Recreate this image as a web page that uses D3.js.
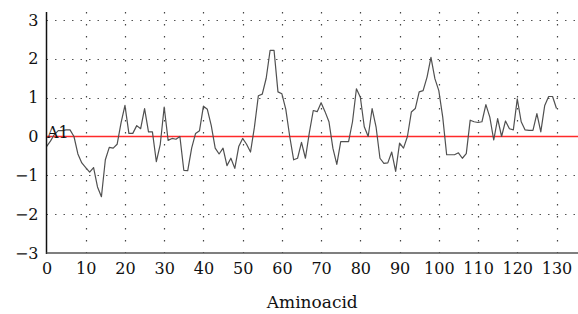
<!DOCTYPE html>
<html><head><meta charset="utf-8">
<script src="https://cdn.jsdelivr.net/npm/d3@7"></script>
<style>body{margin:0;background:#fff}svg{display:block}</style>
</head><body>
<svg id="c" width="578" height="314"></svg>
<script>
const seriesName = "A1";
const xLabel = "Aminoacid";
const xTicks = [0,10,20,30,40,50,60,70,80,90,100,110,120,130];
const yTicks = [-3,-2,-1,0,1,2,3];
const values = [
 -0.26,-0.12,0.05,0.15,0.15,0.17,0.17,0.0,-0.45,-0.68,
 -0.8,-0.92,-0.8,-1.3,-1.55,-0.6,-0.28,-0.3,-0.2,0.35,
 0.8,0.08,0.08,0.28,0.2,0.72,0.12,0.12,-0.65,-0.2,
 0.76,-0.1,-0.05,-0.07,0.0,-0.87,-0.88,-0.3,0.08,0.15,
 0.78,0.7,0.28,-0.3,-0.45,-0.3,-0.75,-0.56,-0.82,-0.26,
 -0.05,-0.2,-0.4,0.24,1.05,1.09,1.5,2.22,2.22,1.15,
 1.1,0.7,0.0,-0.6,-0.56,-0.15,-0.56,0.1,0.67,0.64,
 0.87,0.64,0.38,-0.3,-0.72,-0.13,-0.13,-0.13,0.38,1.23,
 1.01,0.25,0.0,0.72,0.25,-0.56,-0.69,-0.68,-0.4,-0.9,
 -0.17,-0.3,0.0,0.63,0.72,1.15,1.18,1.53,2.04,1.49,
 1.18,0.5,-0.47,-0.47,-0.47,-0.42,-0.56,-0.44,0.42,0.38,
 0.36,0.38,0.82,0.5,-0.09,0.46,0.0,0.4,0.2,0.17,
 0.97,0.38,0.17,0.16,0.16,0.59,0.12,0.8,1.03,1.03,
 0.72
];

const svg = d3.select("#c");
const L = 46.5, R = 578, T = 12, B = 253;
const x = d3.scaleLinear().domain([0,130]).range([46.5,556.5]);
const y = d3.scaleLinear().domain([-3,3]).range([253,20]);
const font = '"DejaVu Serif","Liberation Serif","Noto Serif","Times New Roman",Times,serif';

svg.append("g").selectAll("line").data(yTicks.filter(d=>d!==0 && d!==-3)).join("line")
  .attr("x1",L).attr("x2",R).attr("y1",d=>Math.round(y(d))+0.5).attr("y2",d=>Math.round(y(d))+0.5)
  .attr("stroke","#555").attr("stroke-width",1.2).attr("stroke-dasharray","1.5,7");
svg.append("g").selectAll("line").data(xTicks.filter(d=>d>0)).join("line")
  .attr("x1",d=>Math.round(x(d))+0.5).attr("x2",d=>Math.round(x(d))+0.5).attr("y1",T).attr("y2",B)
  .attr("stroke","#444").attr("stroke-width",1.2).attr("stroke-dasharray","1.5,10.5");

svg.append("line").attr("x1",L).attr("x2",R).attr("y1",y(0)).attr("y2",y(0))
  .attr("stroke","#ff2a2a").attr("stroke-width",1.3);

const line = d3.line().x((d,i)=>x(i)).y(d=>y(d));
svg.append("path").datum(values).attr("d",line).attr("fill","none")
  .attr("stroke","#505050").attr("stroke-width",1.2).attr("stroke-linejoin","round");

svg.append("line").attr("x1",L).attr("x2",L).attr("y1",T).attr("y2",B+1)
  .attr("stroke","#111").attr("stroke-width",1.5);
svg.append("line").attr("x1",L).attr("x2",R).attr("y1",B).attr("y2",B)
  .attr("stroke","#555").attr("stroke-width",1.6);

const xa = svg.append("g").attr("transform",`translate(0,${B})`)
  .call(d3.axisBottom(x).tickValues(xTicks).tickSize(0).tickPadding(10).tickFormat(d3.format("d")));
xa.select(".domain").remove();
xa.attr("font-family",font).attr("font-size",16);
xa.selectAll("text").attr("fill","#111").attr("dy","0.71em");
const ya = svg.append("g").attr("transform",`translate(${L},0)`)
  .call(d3.axisLeft(y).tickValues(yTicks).tickSize(0).tickPadding(8).tickFormat(d=>d<0?"\u2212"+Math.abs(d):d));
ya.select(".domain").remove();
ya.attr("font-family",font).attr("font-size",16);
ya.selectAll("text").attr("fill","#111");

svg.append("text").attr("x",47).attr("y",y(0)+1).attr("font-family",font).attr("font-size",16)
  .attr("fill","#111").text(seriesName);
svg.append("text").attr("x",(L+R)/2).attr("y",308).attr("text-anchor","middle")
  .attr("font-family",font).attr("font-size",17).attr("fill","#111").text(xLabel);
</script>
</body></html>
